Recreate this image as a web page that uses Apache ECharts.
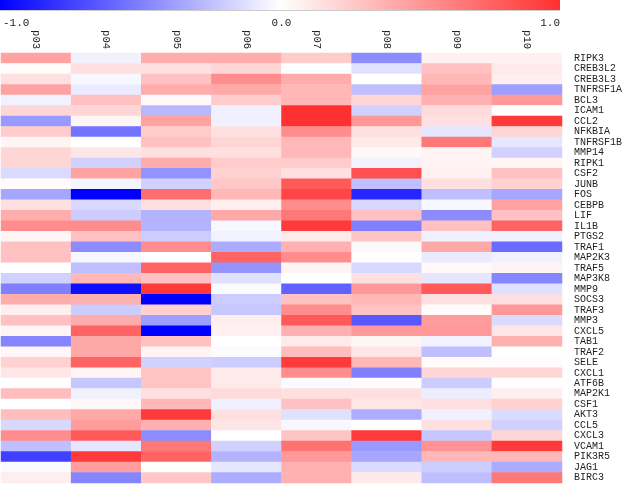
<!DOCTYPE html>
<html><head><meta charset="utf-8">
<script src="https://cdn.jsdelivr.net/npm/echarts@6/dist/echarts.min.js"></script>
<style>html,body{margin:0;padding:0;background:#fff}#c{width:625px;height:484px}</style>
</head><body><div id="c"></div>
<script>
var columns = ['p03','p04','p05','p06','p07','p08','p09','p10'];
var genes = ['RIPK3','CREB3L2','CREB3L3','TNFRSF1A','BCL3','ICAM1','CCL2','NFKBIA','TNFRSF1B','MMP14',
 'RIPK1','CSF2','JUNB','FOS','CEBPB','LIF','IL1B','PTGS2','TRAF1','MAP2K3',
 'TRAF5','MAP3K8','MMP9','SOCS3','TRAF3','MMP3','CXCL5','TAB1','TRAF2','SELE',
 'CXCL1','ATF6B','MAP2K1','CSF1','AKT3','CCL5','CXCL3','VCAM1','PIK3R5','JAG1','BIRC3'];
var colorbarTicks = [-1.0, 0.0, 1.0];
var p03 = [0.45,0.02,0.15,0.45,-0.05,0.2,-0.4,0.25,0.05,0.2, 0.2,-0.14,0.02,-0.35,0.15,0.4,0.55,0.05,0.3,0.3, 0,-0.18,-0.5,0.4,0.08,0.3,0.05,-0.48,0.04,0.22, 0.12,0,0.32,0,0.32,-0.15,0.55,-0.25,-0.75,-0.02,0.08];
var p04 = [-0.05,0.15,-0.03,-0.08,0.3,0.2,0.05,-0.55,0,0.12, -0.18,0.45,-0.04,-1.0,-0.15,-0.2,0.55,0.3,-0.45,-0.03, -0.25,0.35,-0.95,0.38,-0.2,0.4,0.75,0.42,0.42,0.75, 0.05,-0.22,-0.05,0.04,0.42,0.48,0.8,-0.1,0.95,0.48,-0.48];
var p05 = [0.4,0.15,0.3,0.4,0.03,-0.28,0.45,0.25,0.3,0.15, 0.4,-0.42,-0.18,0.7,0.15,-0.3,-0.3,-0.2,0.55,0, 0.75,0.3,0.95,-1.0,0.22,-0.38,-1.0,0.3,0.06,-0.18, 0.28,0.28,0.15,0.35,0.95,0.38,-0.45,0.65,0.75,0,0.27];
var p06 = [0.4,0.2,0.55,0.42,0.25,-0.06,-0.06,0.15,0.2,0.15, 0.25,0.22,0.27,0.35,0.08,0.42,-0.03,-0.05,-0.33,0.75, -0.42,-0.12,-0.02,-0.2,-0.22,0.08,0.07,0,-0.01,-0.2, 0.1,0.1,0.18,-0.06,0.15,0.12,0,-0.18,-0.3,-0.1,-0.32];
var p07 = [0.25,0,0.4,0.35,0.35,1.0,1.0,0.55,0.35,0.35, 0.25,0.15,0.8,0.9,0.55,0.65,0.95,0.1,0.38,0.55, 0.06,0,-0.62,0.3,0.55,0.8,0.38,0.1,0.32,0.95, 0.55,-0.02,0.15,0.3,-0.12,-0.03,0.28,0.68,0.5,0.38,0.38];
var p08 = [-0.45,-0.12,0,-0.25,0.2,-0.18,0.5,0.15,0.1,0.03, -0.05,0.85,-0.25,-0.85,-0.16,0.3,-0.5,0.28,0.03,0, -0.15,0.15,0.5,0.35,0.3,-0.65,0.5,0.05,0.12,0.35, -0.5,0.02,0.15,0.12,-0.32,0,0.95,-0.4,-0.35,-0.14,0.1];
var p09 = [0.07,0.3,0.35,0.45,0.38,0.18,0.15,-0.1,0.65,0.06, 0.06,0.07,0.15,-0.25,-0.03,-0.45,0.3,-0.06,0.42,-0.08, 0.03,-0.1,0.8,0.15,0.02,0.48,0.5,-0.05,-0.25,0.02, 0.2,-0.2,-0.07,0.15,-0.06,0.15,-0.22,0.52,0.35,-0.2,-0.25];
var p10 = [0.07,0.1,0.08,-0.38,0.5,0,0.95,0.2,-0.1,-0.18, 0.05,0.3,0.22,-0.35,0.45,0.3,0.75,-0.06,-0.58,-0.05, 0.06,-0.48,-0.12,0.15,0.5,-0.14,0.12,0.38,0,0.02, 0.2,0,0.08,0.22,-0.14,-0.18,0.2,0.95,0.35,-0.33,0.65];

var colValues = [p03,p04,p05,p06,p07,p08,p09,p10];
var data = [];
colValues.forEach(function(col, ci){
  col.forEach(function(v, ri){ data.push([ci, ri, v]); });
});

var BLUE = '#0000ff', WHITE = '#ffffff', RED = '#ff3030';
var FONT = '"Liberation Mono", "DejaVu Sans Mono", monospace';

var chart = echarts.init(document.getElementById('c'), null, {renderer:'canvas'});
chart.setOption({
  animation: false,
  backgroundColor: '#ffffff',
  grid: [
    {left: 1, top: 53, width: 561, height: 430},
    {left: 0, top: 0, width: 560, height: 10}
  ],
  xAxis: [
    {type: 'category', data: columns, position: 'top', gridIndex: 0,
     axisLine: {show: false}, axisTick: {show: false}, splitLine: {show: false},
     axisLabel: {interval: 0, rotate: 90, margin: 4, fontFamily: FONT, fontSize: 10.5, color: '#222'}},
    {type: 'value', gridIndex: 1, min: -1, max: 1, interval: 1,
     axisLine: {show: false}, axisTick: {show: false}, splitLine: {show: false},
     axisLabel: {margin: 8, fontFamily: FONT, fontSize: 11, color: '#222',
       alignMinLabel: 'left', alignMaxLabel: 'right',
       formatter: function(v){ return colorbarTicks.indexOf(v) >= 0 ? v.toFixed(1) : ''; }}}
  ],
  yAxis: [
    {type: 'category', data: genes, inverse: true, position: 'right', gridIndex: 0,
     axisLine: {show: false}, axisTick: {show: false}, splitLine: {show: false},
     axisLabel: {interval: 0, margin: 12, fontFamily: FONT, fontSize: 10, color: '#222'}},
    {type: 'value', gridIndex: 1, show: false}
  ],
  visualMap: {
    show: false, type: 'continuous', min: -1, max: 1, seriesIndex: 0,
    inRange: {color: [BLUE, WHITE, RED]}
  },
  graphic: [
    {type: 'rect', left: 0, top: 0, shape: {width: 560, height: 10}, z: 10,
     style: {fill: new echarts.graphic.LinearGradient(0,0,1,0,[
       {offset: 0, color: BLUE}, {offset: 0.5, color: WHITE}, {offset: 1, color: RED}])}},
    {type: 'line', shape: {x1: 0, y1: 10.5, x2: 560, y2: 10.5}, z: 10,
     style: {stroke: '#cccccc', lineWidth: 1}}
  ],
  series: [{
    type: 'heatmap', xAxisIndex: 0, yAxisIndex: 0, data: data,
    itemStyle: {borderWidth: 0}, emphasis: {disabled: true}
  }]
});
</script></body></html>
